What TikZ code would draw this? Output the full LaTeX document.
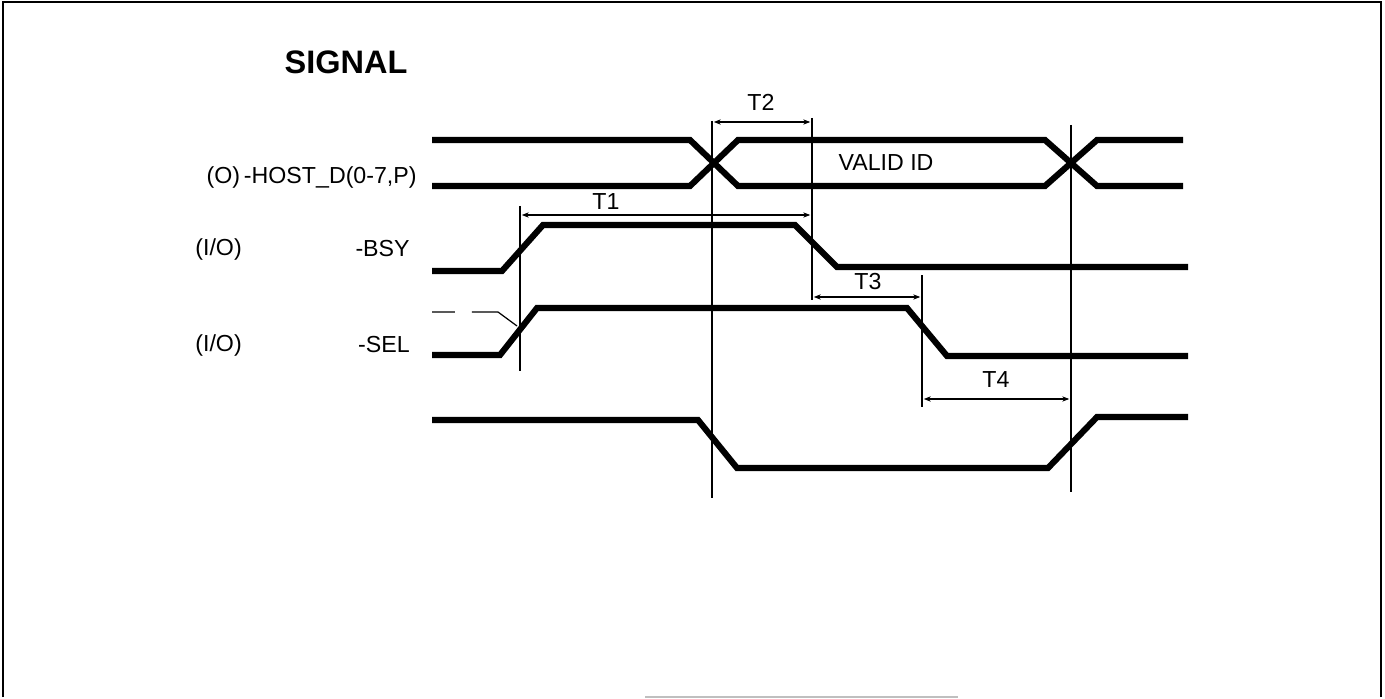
\documentclass[tikz,border=0pt]{standalone}
\usepackage{fontspec}
\setmainfont{Liberation Sans}
\usetikzlibrary{arrows.meta}

\begin{document}
\begin{tikzpicture}[x=0.02cm, y=-0.02cm,
    signal/.style ={line width=3.5pt, line join=miter},
    marker/.style ={line width=0.7pt},
    timing/.style ={line width=0.6pt, shorten <=1pt, shorten >=1pt,
                    {Stealth[length=4pt,width=3pt]}-{Stealth[length=4pt,width=3pt]}},
    caption/.style ={inner sep=0pt, font=\fontsize{13.2}{15}\selectfont}]
   \useasboundingbox (0,0) rectangle (1385,699);
   % frame
   \draw[line width=1.2pt] (3,697) -- (3,2) -- (1381,2) -- (1381,697);
   \draw[gray!50, line width=1pt] (645,697) -- (958,697);

   \node[inner sep=0pt, font=\fontsize{18.5}{22}\selectfont\bfseries] (title) at (346,62) {SIGNAL};
   \node[caption, anchor=east] (host)  at (417,177) {(O)\,-HOST\_D(0-7,P)};
   \node[caption, anchor=west] (bsyio) at (195,249) {(I/O)};
   \node[caption, anchor=east] (bsy)   at (410,249) {-BSY};
   \node[caption, anchor=west] (selio) at (195,345) {(I/O)};
   \node[caption, anchor=east] (sel)   at (410,345) {-SEL};

   % data bus
   \draw[signal] (432,140) -- (690,140) -- (738,186) -- (1045,186) -- (1097,140) -- (1183,140);
   \draw[signal] (432,186) -- (690,186) -- (738,140) -- (1045,140) -- (1097,186) -- (1183,186);
   \node[caption] (valid) at (886,163) {VALID ID};
   % BSY
   \draw[signal] (432,271) -- (502,271) -- (543,225) -- (795,225) -- (837,267) -- (1188,267);
   % SEL
   \draw[signal] (432,355) -- (500,355) -- (537,308) -- (907,308) -- (947,356) -- (1188,356);
   \draw[marker, dash pattern=on 13pt off 9.7pt on 100pt off 0pt] (432,312) -- (498,312) -- (517,326);
   % bottom line
   \draw[signal] (432,420) -- (698,420) -- (737,468) -- (1048,468) -- (1097,417) -- (1188,417);

   % markers
   \foreach \name/\x/\top/\bot in {ma/520/206/371, mb/712/121/498, mc/812/118/300,
                                   md/922/275/407, me/1071/125/492} {
     \coordinate (\name top) at (\x,\top);
     \coordinate (\name bot) at (\x,\bot);
     \draw[marker] (\name top) -- (\name bot);
   }

   % timings
   \draw[timing] (matop |- 0,215) -- (mctop |- 0,215);
   \draw[timing] (mbtop |- 0,122) -- (mctop |- 0,122);
   \draw[timing] (mctop |- 0,297) -- (mdtop |- 0,297);
   \draw[timing] (mdtop |- 0,399) -- (metop |- 0,399);
   \node[caption] (t1) at (606,202) {T1};
   \node[caption] (t2) at (761,102) {T2};
   \node[caption] (t3) at (868,282) {T3};
   \node[caption] (t4) at (996,380) {T4};
 \end{tikzpicture}
\end{document}
